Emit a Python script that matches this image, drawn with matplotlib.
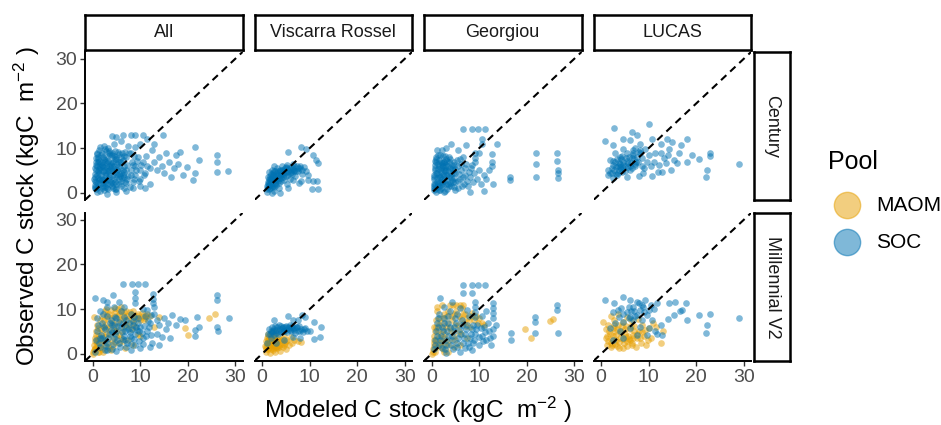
import matplotlib
matplotlib.use("Agg")
import matplotlib.pyplot as plt

plt.rcParams['font.family'] = ['Liberation Sans', 'DejaVu Sans']
plt.rcParams['mathtext.fontset'] = 'custom'
plt.rcParams['mathtext.rm'] = 'Liberation Sans'
plt.rcParams['mathtext.it'] = 'Liberation Sans:italic'

# ── facets and scales ──
sources = ["All", "Viscarra Rossel", "Georgiou", "LUCAS"]
models = ["Century", "Millennial V2"]
ticks = [0, 10, 20, 30]
pools = ["MAOM", "SOC"]

# ── points (modeled, observed) in kgC m-2 ──
cent_all_soc = [
    (0.5, 1), (0.8, 2.5), (1, 4), (1, 6), (1.2, 8), (1.5, 0.5), (1.5, 3), (1.8, 5), (2, 7), (2, 9),
    (2.2, 1.5), (2.5, 4), (2.8, 6), (3, 2), (3, 8), (3.2, 0.8), (3.5, 5), (3.5, 3.5), (3.8, 7), (4, 1.5),
    (4, 9), (4.2, 4), (4.5, 6), (4.8, 2.5), (5, 8), (5, 0.8), (5.2, 5), (5.5, 3), (5.8, 7), (6, 1.5),
    (6, 4.5), (6.2, 9), (6.5, 6), (6.8, 2.5), (7, 5), (7, 8), (0.3, 3), (0.5, 5.5), (0.7, 7), (1.3, 9.5),
    (2.4, 10.5), (1.6, 10.2), (3.3, 10), (0.9, 0.3), (2.6, 2.2), (4.4, 3), (3.8, 5.5), (2, 6), (1.2, 4.8),
    (5.5, 4.2), (6.5, 3.5), (7.5, 3.8), (8, 5), (8.2, 7), (8.5, 2.5), (9, 4), (9, 6), (9.5, 8), (10, 5),
    (10, 3), (10.5, 7), (11, 4.5), (11.5, 6), (12, 5.5), (8, 9), (9, 10.2), (10, 11), (7.5, 10.5),
    (6, 11.5), (4.5, 11), (5, 12.5), (6.3, 13), (8, 13), (9, 13), (10.5, 13), (4, 12.8), (12, 2), (11, 1),
    (10, 1.5), (13, 7), (13.5, 5), (14, 8), (14.5, 6), (15, 4.5), (15.5, 9), (16, 7), (16.5, 3.5),
    (17, 5.5), (17.5, 8.5), (18, 6.5), (18.4, 9.2), (19, 4), (19.8, 5.8), (21.6, 10.2), (22.4, 7.3),
    (21.6, 4.4), (21.1, 2.9), (26.1, 8.4), (26.1, 7.0), (26.1, 4.7), (28.5, 4.9), (14.8, 12.9),
    (12.5, 9.5), (13, 11), (11.5, 12), (3, -0.3), (5, 0.2), (7, 0.5), (8.5, 1),
    (0.4, 1.8), (0.6, 4.2), (0.7, 6.3), (0.9, 8.6), (1.1, 1.2), (1.1, 3.3), (1.3, 5.4), (1.4, 7.2),
    (1.6, 1.9), (1.7, 4.1), (1.9, 6.2), (2.1, 8.1), (2.3, 0.6), (2.4, 2.9), (2.6, 5.1), (2.7, 7.4),
    (2.9, 9.3), (3.1, 1.1), (3.3, 3.2), (3.4, 6.1), (3.6, 8.4), (3.9, 2.4), (4.1, 4.9), (4.3, 6.9),
    (4.5, 8.2), (4.7, 0.9), (4.9, 3.6), (5.1, 6.4), (5.3, 9.1), (5.6, 1.9), (5.7, 5.6), (5.9, 8.1),
    (6.1, 3.4), (6.4, 7.3), (6.6, 1.1), (6.7, 4.7), (7.1, 2.1), (7.3, 6.2), (7.6, 8.9), (7.8, 1.3),
    (8.1, 4.1), (8.4, 6.3), (8.7, 3.1), (9.2, 5.2), (9.4, 7.1), (9.7, 2.6), (10.2, 6.3), (10.8, 4.1),
    (11.2, 8.2), (0.5, 2.6), (1.9, 2.8), (2.9, 4.4), (3.7, 1.9), (4.6, 4.6), (5.4, 6.9), (6.3, 5.2),
    (2.2, 5.8), (1.2, 6.8), (3.1, 6.7), (4.9, 7.5), (0.8, 0.8), (2.7, 1.2), (4.2, 2.1), (5.7, 3.8),
    (7.2, 3.2), (8.8, 8.3), (6.9, 9.2), (3.5, 9.3),
]
cent_all_core = [
    (0.6, 1.4), (0.6, 3.6), (0.7, 5.1), (0.8, 7.7), (1, 9), (1.2, 2.1), (1.3, 2.9), (1.4, 4.4),
    (1.6, 6.5), (1.7, 8.4), (1.9, 1.1), (2, 3.2), (2.2, 4.9), (2.3, 7.6), (2.5, 9.7), (2.7, 2.6),
    (2.8, 4.1), (3, 5.6), (3.2, 7.2), (3.4, 8.8), (3.6, 2.9), (3.7, 4.3), (3.9, 6.4), (4, 8.4), (4.3, 1),
    (4.4, 5.4), (4.6, 7.6), (4.8, 9.4), (5, 2), (5.2, 4.3), (5.4, 5.8), (5.6, 8.6), (5.9, 2.6), (6, 6.9),
    (6.3, 4.1), (6.6, 8.3), (1.5, 5.8), (2.5, 6.8), (3.3, 4.8), (4.1, 6), (2.1, 2.2), (1.1, 7.6),
]
cent_vr_soc = [
    (1, 0.3), (1, 1.5), (1.2, 2.5), (1.3, 3.5), (1.5, 0.8), (1.6, 2), (1.8, 3), (1.8, 4.2), (2, 1.2),
    (2.1, 5), (2.3, 2.5), (2.5, 3.8), (2.6, 0.5), (2.8, 4.8), (3, 1.8), (3, 3), (3.2, 5.5), (3.4, 4),
    (3.6, 2.2), (3.8, 5), (4, 3.3), (4.2, 6), (4.4, 4.5), (4.6, 2.8), (4.8, 5.5), (5, 3.8), (5.2, 6.3),
    (5.5, 4.8), (5.8, 3.2), (6, 5.8), (6.2, 4.2), (6.5, 6.5), (6.8, 5.2), (7, 3.8), (7.3, 6), (7.6, 4.8),
    (8, 5.5), (8.4, 4.2), (8.8, 5.8), (9.2, 4.8), (9.6, 3.9), (2, 0), (3.5, 1), (1.4, 4.6), (2.6, 6),
    (5.2, 2), (6.5, 2.8), (7.8, 2.2), (5.5, 9.1), (8.2, 10.3), (9.2, 9.7), (10.6, 8.5), (11.4, 7.3),
    (11.8, 6.6), (9.7, 2.9), (10.6, 2.6), (11.6, 2.6), (10.4, 0.8), (11.7, 0.8), (8.2, 2.6), (5.5, 1.1),
    (3.8, 0),
    (1.1, 0.9), (1.3, 2), (1.4, 3), (1.7, 1), (1.9, 2.3), (2, 3.6), (2.2, 4.4), (2.4, 1.4), (2.6, 2.8),
    (2.9, 3.5), (3.1, 4.4), (3.3, 2.6), (3.6, 3.4), (3.9, 4.3), (4.1, 5.2), (4.4, 3.6), (4.7, 4.9),
    (5, 5.8), (5.4, 4), (5.7, 5.3), (6, 4.6), (6.4, 5.5), (6.8, 6), (7.1, 4.9), (7.5, 5.6), (8, 6),
    (8.3, 5), (1.6, 3.8), (2.8, 2), (3.7, 4.8),
]
cent_vr_core = [
    (1.2, 1.2), (1.4, 2.4), (1.6, 3.2), (1.9, 1.8), (2.1, 2.9), (2.3, 3.9), (2.5, 4.8), (2.7, 2.3),
    (3, 4.1), (3.2, 3.1), (3.4, 4.8), (3.7, 3.9), (4, 4), (4.3, 5), (4.6, 4.2), (5, 4.6), (5.3, 5.5),
    (5.8, 4.4), (6.2, 5.2), (6.6, 4.8), (1.5, 1.7), (2.2, 1.6), (2.9, 2.8), (3.9, 2.6),
]
cent_geo_soc = [
    (0.5, 1), (0.6, 3), (0.8, 5), (1, 7), (1, 0.3), (1.3, 2), (1.5, 4), (1.6, 6), (1.8, 8.5), (2, 1),
    (2.2, 3), (2.5, 5), (2.6, 7), (2.8, 0.5), (3, 2), (3.2, 4), (3.5, 6), (3.6, 8), (4, 1.5), (4, 3.5),
    (4.3, 5.5), (4.6, 7), (5, 2.5), (5, 4.5), (5.5, 1), (5.6, 6), (6, 3), (6.2, 5), (6.5, 8), (6.8, 2),
    (7, 4), (7.3, 6.5), (7.6, 1.5), (8, 3.5), (8.3, 5.5), (8.6, 2.5), (9, 4.5), (9.1, 6.8), (9.1, 7.8),
    (9.1, 9), (9.5, 3), (10, 5), (10.4, 2), (11, 4), (11.5, 3), (12, 5), (12.6, 5.9), (12.6, 7),
    (12.6, 8.6), (13, 2), (1.2, 9.5), (2.2, 9.5), (4, 11), (3, 10), (5.5, 9.5), (7.3, 10.6), (10.5, 12.1),
    (10.5, 11), (13.7, 11), (6.6, 14.2), (8.4, 14.2), (9.7, 14.2), (11.2, 14.2), (22, 9), (22, 6.4),
    (22, 3.6), (26.4, 9), (26.4, 7.1), (26.6, 5.1), (26.6, 3.3), (16.5, 3.6), (16.5, 2.9), (26.6, 4.5),
    (11, 0.5), (8, 0.3), (10, 9), (0.8, 2), (1.8, 3.5), (3, 5), (2.2, 6.3), (4.5, 2.5), (3.8, 7.5),
    (0.4, 2), (0.5, 4), (0.7, 6.2), (0.9, 8), (1.1, 1.3), (1.2, 3.3), (1.3, 5.4), (1.5, 7.3), (1.7, 0.7),
    (1.8, 2.5), (2, 4.6), (2.1, 6.6), (2.3, 8.3), (2.4, 1.7), (2.6, 3.7), (2.8, 5.8), (3, 7.6), (3.2, 0.9),
    (3.3, 2.9), (3.5, 4.8), (3.7, 6.8), (3.9, 2.2), (4.1, 4.2), (4.3, 6.3), (4.6, 1.2), (4.8, 3.3),
    (5, 5.4), (5.3, 7.4), (5.5, 2.6), (5.8, 4.3), (6.1, 6.4), (6.4, 1.6), (6.7, 3.6), (7, 5.6), (7.5, 2.7),
    (7.9, 4.6), (8.5, 6.3), (0.6, 0.6), (1.4, 2.1), (2.2, 2.4), (3.1, 3.9), (1.9, 5.5), (2.7, 6.9),
    (4.4, 5), (3.6, 1.5), (1, 4.5), (0.8, 7.2), (2.5, 0.2), (4.9, 0.6), (6, 7.5),
]
cent_geo_core = [
    (0.5, 1.5), (0.6, 3.5), (0.7, 5.5), (0.9, 7.5), (1.1, 2.5), (1.2, 4.5), (1.4, 6.5), (1.6, 1.5),
    (1.7, 3.5), (1.9, 7), (2.1, 2), (2.3, 4), (2.4, 6), (2.7, 2.7), (2.9, 4.8), (3.1, 6.3), (3.4, 1.9),
    (3.6, 3.5), (3.8, 5.5), (4.2, 2.8), (4.5, 4.5), (4.7, 6.2), (1.3, 8.5), (2.9, 8.2), (0.7, 0.9),
    (2, 5.2), (3.3, 7.1), (1.5, 0.6),
]
cent_lucas_soc = [
    (0.85, 11.5), (2.7, 14.5), (10, 15.5), (2.6, 10.7), (4.7, 12.1), (6.5, 13.6), (6.1, 11.8),
    (7.5, 12.9), (8.2, 11), (10.7, 12.1), (12.5, 11), (13.9, 12.1), (14.9, 11.4), (16.7, 10.7),
    (18.1, 12.1), (16.3, 8.8), (18.1, 7), (19.2, 8.4), (20.6, 7.5), (22.9, 9), (22.9, 8.2), (22.3, 5.1),
    (22, 3.6), (29, 6.4), (14.2, 9.9), (14, 8.4), (15.3, 7.3), (13.7, 6.6), (14.6, 5.1), (12.1, 6.2),
    (12, 4.7), (10.7, 3.8), (7.9, 3.8), (8.9, 4.5), (5.4, 3.5), (4.4, 4.7), (3.3, 3.9), (1.5, 5.1),
    (1.5, 3.9), (1.9, 7.3), (3, 8.8), (4, 8), (3.7, 6.6), (4.7, 7), (5.4, 8.8), (6.8, 8.8), (8.2, 8.8),
    (9.3, 9.9), (10, 8.4), (11.4, 8.8), (11.1, 7), (10.4, 5.9), (9, 5.5), (7.2, 5.9), (6.1, 5.1),
    (7.4, 7), (9.7, 7), (8.1, 9.5), (4.7, 9.9), (2.2, 5.5), (2.6, 3.3), (4, 5.7), (5.6, 6.6), (6.5, 7.7),
    (8.6, 7.7), (12.5, 8.8), (13.2, 7.7), (16, 6.6), (12.8, 4.7), (3.5, 6), (4, 6.5), (4.5, 5.5), (3, 7),
    (5, 6), (4.2, 7.5), (2.5, 6.3), (3.8, 5.2), (5.5, 7.2), (6, 6), (6.5, 5.5), (7, 7.5), (7.5, 8),
    (8, 9.2), (7.2, 10), (6.8, 9.5),
    (2.2, 4.5), (2.8, 5), (3.2, 5.8), (3.6, 4.4), (4.1, 5.3), (4.6, 6.2), (5.1, 4.9), (5.6, 5.7),
    (6.2, 6.6), (2.4, 7.1), (3.4, 7.6), (4.4, 8.3), (5.8, 8), (6.8, 8.4), (7.8, 6.8), (8.5, 6),
    (1.8, 4.4), (3.1, 4.3), (5.2, 7.8), (7.2, 6.4),
]
mill_all_soc = [
    (0.4, 12.4), (4.3, 13.1), (6.4, 15.7), (8.2, 15.7), (9.6, 15.7), (11, 15.7), (8.9, 13.8), (8.9, 12.5),
    (8.9, 11.3), (12.7, 13.3), (12.7, 12.2), (12.7, 11.3), (26.1, 13.1), (26.1, 12), (26.1, 6.1),
    (26.3, 5.1), (28.6, 8.1), (22, 8.3), (22.3, 6), (21.5, 5.3), (21.6, 4), (18.4, 7.9), (16.6, 8.7),
    (16.3, 3.5), (14, 6.5), (15, 8), (13.5, 4.5), (15.5, 5.5), (17.5, 6.5), (19.5, 7.5), (11, 8.5),
    (12, 7), (13, 9), (11.5, 5), (12.5, 2.5), (10.5, 3.5), (10, 6), (9.5, 8), (9, 4.5), (9, 2), (8.5, 6.5),
    (8, 9), (8, 3.5), (7.5, 5.5), (7, 7.5), (7, 1.5), (6.5, 4), (6, 6), (6, 9.5), (5.5, 2.5), (5, 5),
    (5, 8), (4.5, 3.5), (4.5, 10.5), (4, 1), (4, 6.5), (3.5, 4.5), (3, 2.5), (3, 8.5), (3, 10.5),
    (2.5, 5.5), (2, 3.5), (2, 7), (1.5, 1.5), (1.5, 9.5), (1, 5), (1, 8), (0.8, 3), (0.5, 0.5), (2.2, 12),
    (3, 11.5), (5.5, 11.5), (6.5, 10.5), (10.5, 10), (11.5, 9.8), (13, 10.5), (2.6, 0.8), (5, 0.6),
    (8, 0.8), (10, 1.2), (12, 1.5), (14, 2), (6.8, 3), (3.8, 7.5), (7.8, 4.8), (9.8, 5.2),
    (1.3, 2.4), (1.8, 4.2), (2.3, 6.1), (2.8, 1.7), (3.3, 3.6), (3.8, 5.4), (4.3, 2.3), (4.8, 4.4),
    (5.3, 6.3), (5.8, 1.5), (6.3, 3.3), (6.8, 5.1), (7.3, 2.4), (7.8, 4), (8.3, 5.6), (8.8, 3.3),
    (9.3, 5.3), (9.8, 2.9), (10.3, 4.6), (10.8, 6.3), (11.3, 3.9), (11.8, 6), (12.3, 4.3), (1.1, 6.4),
    (2.1, 8.8), (3.6, 7), (4.6, 8.3), (5.6, 7.2), (6.6, 8.3), (7.6, 6.9), (8.6, 8.2), (9.6, 7), (2.6, 3.1),
    (3.1, 0.9), (4.1, 4.9), (5.1, 3.1), (6.1, 4.8), (7.1, 5.9), (8.1, 2.1), (9.1, 6.1), (10.6, 2.3),
    (11.6, 7.3), (12.2, 8.6), (1.6, 3.6), (4.4, 6.4), (6.4, 6.8), (8.4, 7.3), (13.5, 7.5), (14.5, 3.8),
    (15.8, 6.8),
]
mill_all_maom = [
    (0, 0), (0.2, 0.8), (0.3, 2), (0.5, 3.5), (0.6, 1), (0.8, 5), (1, 2.5), (1, 6.5), (1.2, 0.5),
    (1.3, 4), (1.5, 7.5), (1.6, 2), (1.8, 5.5), (2, 1), (2, 8.5), (2.2, 3), (2.5, 6.5), (2.5, 9.5),
    (2.8, 4.5), (3, 7.8), (3.2, 1.5), (3.5, 9), (3.5, 5.5), (4, 7), (4, 3), (4.5, 8.5), (4.8, 10.2),
    (5, 6), (5, 4), (5.5, 9), (5.8, 7.5), (6, 10.5), (6.2, 5), (6.5, 8.5), (7, 9.5), (7, 6.5), (7.5, 7.8),
    (8, 8.8), (8, 5.5), (8.5, 9.5), (9, 8), (9, 6), (9.5, 9), (10, 7.5), (10.5, 8.5), (11, 8), (11.5, 9),
    (12, 8.5), (4.2, 1.8), (5.5, 2.5), (6, 3.5), (3.8, 0.8), (7.5, 3), (8.5, 2), (10, 4), (6.8, 1.2),
    (0.3, 8.3), (19.5, 5.7), (20, 4.2), (24.4, 8.1), (25.8, 9), (14, 8.2), (13, 6), (9.5, 4.5),
    (0.1, 0.4), (0.4, 1.4), (0.4, 2.8), (0.7, 4.3), (0.9, 1.8), (1.1, 3.3), (1.2, 5.7), (1.5, 1.2),
    (1.7, 3.3), (1.9, 4.7), (2.1, 6.2), (2.3, 2), (2.4, 7.6), (2.7, 3.8), (2.9, 5.8), (3.1, 8.6),
    (3.3, 2.5), (3.6, 4.4), (3.8, 6.6), (4.1, 8), (4.4, 5.4), (4.6, 9.3), (5.2, 7.2), (5.4, 8.4),
    (5.9, 9.5), (6.3, 7.7), (6.7, 9.3), (7.2, 8.4), (7.8, 9.3), (8.3, 7.6), (8.8, 8.4), (9.3, 8.5),
    (9.8, 8.1), (10.3, 9.2), (10.8, 7.6), (11.3, 8.4), (4.9, 5.1), (6.6, 6.2), (7.7, 6.5), (8.7, 7),
    (5.6, 4.3), (3.4, 1), (4.6, 2.6), (6.4, 2.8), (2.2, 0.5), (1.4, 0.4), (0.9, 2.9), (3.9, 9.8),
    (2.9, 10.1), (5.3, 10.1),
]
mill_vr_soc = [
    (1.2, 4.5), (1.5, 5.5), (1.8, 3.5), (2, 6), (2.3, 5), (2.6, 4.2), (2.8, 6.3), (3, 5.3), (3.3, 4.5),
    (3.5, 6.5), (3.8, 5.5), (4, 4.8), (4.3, 6), (4.6, 5.2), (5, 6.3), (5.3, 4.8), (5.6, 5.8), (6, 5),
    (6.3, 6.2), (6.6, 5.4), (7, 4.6), (7.2, 6), (7.5, 5.2), (7.8, 6.3), (8.2, 5.5), (8.6, 4.8), (9, 5.8),
    (9.4, 5), (5.4, 8.4), (8.4, 8.7), (9, 8.2), (10.8, 7.2), (12.3, 5.9), (10.8, 3.3), (12.2, 3.8),
    (10.1, 5), (2.5, 7.5), (3, 2.5), (6.5, 3.8), (8, 3.5), (1, 2.5), (4.5, 3), (7.5, 7.5), (6.5, 7.5),
    (1.6, 4.4), (2.1, 4.8), (2.5, 5.6), (2.9, 4.6), (3.2, 5.9), (3.6, 5), (4.1, 5.8), (4.4, 5.1),
    (4.8, 5.9), (5.1, 5.3), (5.5, 6), (5.9, 5.4), (6.2, 5.8), (6.8, 5.7), (7.4, 5.9), (8, 5.2),
    (8.8, 5.5), (1.9, 5.2), (3.9, 6.3), (5.8, 6.5),
]
mill_vr_maom = [
    (0.8, 0.5), (0.9, 1.5), (1, 2.5), (1.1, 3.5), (1.3, 1), (1.4, 2), (1.5, 3), (1.6, 0.3), (1.8, 1.5),
    (1.9, 4), (2, 2.5), (2.2, 0.8), (2.3, 3.3), (2.5, 1.8), (2.7, 4.2), (2.8, 0.5), (3, 2.8), (3.2, 1.2),
    (3.4, 3.7), (3.6, 2), (3.8, 0.6), (4, 3), (4.3, 1.5), (4.5, 4), (4.8, 2.5), (5, 1), (5.3, 3.2),
    (5.6, 2), (6, 3.8), (6.3, 2.5), (6.8, 3.2), (7.5, 2.8), (8.2, 2.6), (1.2, 4.5), (0.6, 1.8), (2.1, 5),
    (3, 5.2), (1.7, 2.2), (2.4, 3), (3.1, 1.8),
    (0.9, 1), (1, 2), (1.2, 3), (1.4, 1.5), (1.5, 2.5), (1.7, 3.5), (1.9, 1), (2.1, 2), (2.2, 3.8),
    (2.4, 2.4), (2.6, 1.2), (2.8, 3.4), (3.1, 2.4), (3.3, 3), (3.5, 1.6), (3.7, 2.8), (4.1, 2.2),
    (4.4, 3.4), (4.6, 1.9), (5.1, 2.8), (1.3, 3.9), (1.8, 4.6), (0.8, 2.9), (2.9, 1.5),
]
mill_geo_soc = [
    (6.6, 15.5), (8.4, 15.5), (9.7, 15.5), (11.2, 15.5), (6.6, 13.6), (8.4, 13.6), (9.1, 11.6),
    (9.1, 10.5), (9.1, 9.3), (9.1, 8.2), (13, 11.3), (13, 10.2), (13, 9.1), (13, 8.1), (21.8, 8.3),
    (21.8, 7.2), (26.4, 10.9), (26.4, 9.8), (26.6, 4.6), (21.8, 4.6), (16.7, 4.7), (16.7, 3.1), (0.5, 1),
    (0.8, 3), (1, 5), (1.2, 7), (1.5, 9), (1.6, 2), (2, 4), (2.2, 6), (2.5, 8), (2.8, 1), (3, 3), (3.2, 5),
    (3.5, 7), (3.8, 9.5), (4, 2), (4.3, 4), (4.6, 6), (5, 8), (5.3, 1.5), (5.6, 3.5), (6, 5.5), (6.3, 7.5),
    (6.6, 2.5), (7, 4.5), (7.4, 6.5), (7.8, 1.5), (8, 3.5), (8.4, 5.5), (8.8, 2.5), (9.2, 4.5), (9.6, 6.5),
    (10, 2), (10.5, 4), (11, 6), (11.5, 3), (12, 5), (12.5, 2), (13, 4), (13.5, 6.5), (2.5, 10.5),
    (4.2, 11.5), (6, 10.3), (7.5, 9.8), (10.5, 8.5), (11.5, 9.5), (3, 0.3), (6, 0.5), (8.5, 0.8),
    (1.7, 12.5),
    (0.7, 2), (1.1, 4), (1.4, 6.1), (1.8, 3), (2.3, 5), (2.6, 7), (3.1, 2), (3.4, 4), (3.9, 6), (4.2, 3),
    (4.7, 5), (5.1, 7), (5.4, 2.5), (5.9, 4.5), (6.4, 6.5), (6.8, 3.5), (7.2, 5.5), (7.6, 2.5), (8.2, 4.5),
    (8.6, 6.5), (9, 3), (9.4, 5.5), (9.9, 3.8), (10.3, 5.8), (10.8, 2.8), (11.3, 4.8), (11.8, 6.8),
    (12.3, 3.5), (1.3, 8), (3.4, 8.5), (5.4, 9), (7.9, 8.5), (2.1, 1.2), (4.5, 1), (7, 1.2), (12.8, 5.5),
]
mill_geo_maom = [
    (0, 0), (0.3, 1), (0.5, 2.5), (0.6, 4), (0.8, 0.5), (1, 3), (1, 6), (1.2, 1.5), (1.4, 5), (1.5, 8),
    (1.7, 2.5), (2, 4.5), (2, 7), (2.3, 1), (2.5, 9), (2.7, 3.5), (3, 6), (3.2, 8.5), (3.5, 2),
    (3.9, 10.9), (4.5, 10.9), (5.2, 10.9), (6, 10.9), (6.7, 10.9), (4, 5), (4.3, 7.5), (4.7, 9), (5, 3),
    (5.5, 6.5), (5.8, 8.5), (6.2, 4.5), (6.8, 7), (7, 9), (7.5, 8), (8, 6), (8.5, 8.5), (9, 7.5), (10, 8),
    (10.5, 7), (11, 6.5), (3.5, 0.5), (6, 2), (7.5, 3.5), (19.7, 5.5), (20.9, 3.6), (24.8, 7.3),
    (25.6, 7.8), (2.2, 11), (1.2, 9.5),
    (0.2, 0.5), (0.4, 1.8), (0.6, 3.2), (0.8, 5), (1, 7.5), (1.3, 2.2), (1.5, 3.8), (1.6, 6.5), (1.9, 1.5),
    (2.1, 3), (2.3, 5.5), (2.4, 8), (2.8, 2.2), (2.9, 4.5), (3.2, 7), (3.4, 9.5), (3.7, 3.2), (3.9, 5.8),
    (4.2, 8.5), (4.6, 4), (4.9, 6.5), (5.2, 9.5), (5.7, 5), (6.1, 7.8), (6.5, 9), (7.2, 6.2), (7.9, 7.5),
    (8.4, 9.2), (9.3, 8.5), (9.8, 7), (4.8, 1.5), (2.6, 0.5), (1.1, 10.5), (6.3, 10.2), (0.4, 6),
]
mill_lucas_soc = [
    (0.85, 12), (2.7, 11.3), (4.7, 12.7), (6.1, 12), (7.9, 11.3), (9.3, 12), (10.4, 10.9), (11.8, 11.3),
    (14.2, 11.3), (15.6, 11.6), (17.8, 11.3), (17.1, 9.8), (16.5, 9.5), (15.3, 8.7), (18.1, 7.6),
    (20.6, 8.7), (22.9, 8.8), (22.3, 6.4), (22, 4.7), (29, 8.1), (14, 7.9), (12.5, 6.4), (12.8, 4.2),
    (11.8, 4.5), (2.6, 9.4), (3.7, 8.3), (5.4, 9.4), (6.8, 10.5), (8.2, 9.8), (9.7, 8.7), (11.1, 10.1),
    (10.7, 7.6), (8.6, 7.6), (6.8, 7.6), (4.7, 7.2), (3, 6.9), (1.9, 5.7), (4, 5), (6.1, 5.7), (8.2, 6.1),
    (10, 5.7), (11.4, 5), (9.7, 4.3), (7.6, 4.3), (4.7, 3.5), (2.6, 3.2), (6.1, 8.3), (7.6, 8.7),
    (4.5, 9), (5.8, 10.5), (7, 9.5), (7.5, 11.5), (8.8, 10.5), (5.8, 8), (7.2, 8.5), (9, 9.3), (10, 9.7),
    (4.2, 10.2), (3.5, 9.8), (6.2, 9.6), (8.5, 11),
]
mill_lucas_maom = [
    (0.5, 7.2), (1, 5.5), (1, 3.5), (1.2, 2), (1.5, 6.5), (1.8, 4.5), (2, 1.5), (2.2, 3), (2.5, 5.8),
    (2.8, 7.5), (3, 2.2), (3.2, 4.2), (3.5, 6.5), (3.8, 1.3), (4, 3.5), (4.2, 5.2), (4.5, 7.2), (4.8, 2.5),
    (5, 4.5), (5.2, 6.2), (5.5, 1.8), (5.8, 3.3), (6, 5.5), (6.3, 7.5), (6.5, 2.5), (6.8, 4.2), (7, 6.3),
    (7.3, 1.5), (7.6, 3.5), (8, 5), (8.3, 2.5), (8.6, 6.5), (9, 4), (9.5, 2), (10, 5.8), (10.5, 3.5),
    (11.5, 6), (12.5, 2.5), (13, 5), (2, 8.5), (3.5, 8.8), (5.5, 8.3), (7.8, 7.8), (11, 7), (1.5, 2.8),
    (3, 5), (6, 3), (4.5, 1.2),
    (1.3, 4), (1.6, 5.2), (2, 2.5), (2.4, 4), (2.7, 6.5), (3.1, 3), (3.4, 5.6), (3.7, 2.6), (4.1, 4.6),
    (4.4, 6.3), (4.7, 3.3), (5.1, 5.5), (5.4, 2.8), (5.7, 4.1), (6.2, 6.3), (6.6, 3.5), (7, 5.2),
    (7.5, 4.4), (8.1, 3.6), (8.6, 4.8), (9.3, 5.4), (2.2, 2), (3.3, 1.8), (5.3, 3.8), (6.4, 2),
    (9.8, 3.1),
]

panel_data = {
    ("Century", "All"): {"SOC": cent_all_soc + cent_all_core},
    ("Century", "Viscarra Rossel"): {"SOC": cent_vr_soc + cent_vr_core},
    ("Century", "Georgiou"): {"SOC": cent_geo_soc + cent_geo_core},
    ("Century", "LUCAS"): {"SOC": cent_lucas_soc},
    ("Millennial V2", "All"): {"MAOM": mill_all_maom, "SOC": mill_all_soc},
    ("Millennial V2", "Viscarra Rossel"): {"MAOM": mill_vr_maom, "SOC": mill_vr_soc},
    ("Millennial V2", "Georgiou"): {"MAOM": mill_geo_maom, "SOC": mill_geo_soc},
    ("Millennial V2", "LUCAS"): {"MAOM": mill_lucas_maom, "SOC": mill_lucas_soc},
}
pool_colors = {"MAOM": "#E69F00", "SOC": "#0072B2"}

W, H = 941, 425
LIM = (-1.6, 31.5)
fig = plt.figure(figsize=(W / 100, H / 100), dpi=100)


def fig_box(x0, y0, w, h):
    # pixel box (top-left origin) -> figure fraction
    return [x0 / W, 1 - (y0 + h) / H, w / W, h / H]


def strip(box, label, rotation=0):
    s = fig.add_axes(fig_box(*box))
    s.set_xticks([])
    s.set_yticks([])
    for sp in s.spines.values():
        sp.set_linewidth(1.8)
        sp.set_color("black")
    s.text(0.5, 0.5, label, ha="center", va="center", rotation=rotation,
           fontsize=13, color="#1A1A1A", transform=s.transAxes)


for r, model in enumerate(models):
    for c, src in enumerate(sources):
        x0 = 85 + c * 169.5
        y0 = 52 + r * 161
        ax = fig.add_axes(fig_box(x0, y0, 157.5, 148))
        ax.set_xlim(LIM)
        ax.set_ylim(LIM)
        for pool, pts in panel_data[(model, src)].items():
            ax.scatter([p[0] for p in pts], [p[1] for p in pts], s=23,
                       color=pool_colors[pool], alpha=0.5, linewidths=0, zorder=2)
        ax.axline((0, 0), slope=1, color="black", lw=1.5,
                  linestyle=(0, (3.5, 2.5)), zorder=3)
        for sp in ax.spines.values():
            sp.set_visible(False)
        ax.tick_params(direction="out", length=3.5, width=1, color="#333333",
                       labelsize=14, labelcolor="#4D4D4D", pad=2)
        if c == 0:
            ax.spines["left"].set_visible(True)
            ax.spines["left"].set_linewidth(1.4)
            ax.set_yticks(ticks)
        else:
            ax.set_yticks([])
        if r == 1:
            ax.spines["bottom"].set_visible(True)
            ax.spines["bottom"].set_linewidth(1.4)
            ax.set_xticks(ticks)
        else:
            ax.set_xticks([])
        if r == 0:
            strip((x0, 15, 157.5, 35), src)
        if c == len(sources) - 1:
            strip((754, y0, 36, 148), model, rotation=-90)

# axis titles
fig.text(418 / W, 1 - 410 / H, r"Modeled C stock (kgC  m$^{-2}$ )",
         ha="center", va="center", fontsize=17.5)
fig.text(27 / W, 1 - 206 / H, r"Observed C stock (kgC  m$^{-2}$ )",
         ha="center", va="center", rotation=90, fontsize=17.5)

# legend
leg = fig.add_axes([0, 0, 1, 1], facecolor="none")
leg.set_xlim(0, W)
leg.set_ylim(H, 0)
leg.axis("off")
leg.text(828, 162, "Pool", fontsize=18, ha="left", va="center")
for i, pool in enumerate(pools):
    yy = 205 + i * 37
    leg.scatter([847], [yy], s=360, color=pool_colors[pool], alpha=0.5,
                edgecolors=pool_colors[pool], linewidths=1)
    leg.text(876, yy, pool, fontsize=15, ha="left", va="center")

fig.savefig("out.png", dpi=100)
